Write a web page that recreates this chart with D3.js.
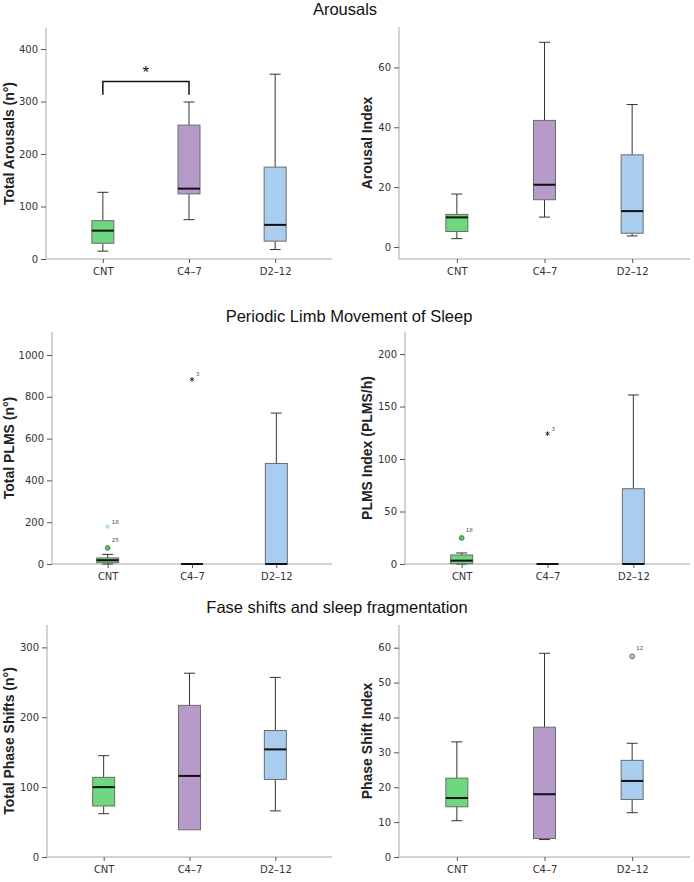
<!DOCTYPE html>
<html>
<head>
<meta charset="utf-8">
<script src="https://cdn.jsdelivr.net/npm/d3@7/dist/d3.min.js"></script>
<style>
  html, body { margin: 0; padding: 0; background: #fff; }
  svg { display: block; }
</style>
</head>
<body>
<svg id="chart" width="694" height="882"></svg>
<script>
// ---------- data ----------
const categories = ["CNT", "C4–7", "D2–12"];
const sectionTitles = ["Arousals", "Periodic Limb Movement of Sleep", "Fase shifts and sleep fragmentation"];
const yLabels = ["Total Arousals (n°)", "Arousal Index", "Total PLMS (n°)", "PLMS Index (PLMS/h)", "Total Phase Shifts (n°)", "Phase Shift Index"];

// [lower whisker, Q1, median, Q3, upper whisker] per category
const totalArousals = [[15, 30, 54, 73, 127], [75, 124, 134, 255, 299], [18, 34, 65, 175, 352]];
const arousalIndex  = [[2.8, 5.2, 9.9, 10.9, 17.7], [10.0, 15.8, 20.8, 42.3, 68.4], [3.7, 4.6, 12.0, 30.8, 47.6]];
const totalPLMS     = [[0, 6, 18, 29, 46], [0, 0, 0, 0, 0], [0, 0, 0, 481, 722]];
const plmsIndex     = [[0, 0.3, 3.2, 8.6, 10.5], [0, 0, 0, 0, 0], [0, 0, 0, 71.7, 161]];
const totalPhase    = [[62, 73, 100, 114, 145], [39, 39, 116, 217, 263], [66, 111, 154, 181, 257]];
const phaseIndex    = [[10.4, 14.4, 16.9, 22.6, 33.0], [5.0, 5.3, 18.0, 37.2, 58.4], [12.7, 16.5, 21.8, 27.7, 32.6]];

// outliers: [category, value, case label, kind]
const totalPLMSOut  = [["CNT", 77, "25", "circle"], ["CNT", 179, "18", "star"], ["C4–7", 883, "3", "star"]];
const plmsIndexOut  = [["CNT", 24.8, "18", "circle"], ["C4–7", 124.2, "3", "star"]];
const phaseIndexOut = [["D2–12", 57.5, "12", "circle"]];

const ticksTotalArousals = [0, 100, 200, 300, 400];
const ticksArousalIndex  = [0, 20, 40, 60];
const ticksTotalPLMS     = [0, 200, 400, 600, 800, 1000];
const ticksPLMSIndex     = [0, 50, 100, 150, 200];
const ticksTotalPhase    = [0, 100, 200, 300];
const ticksPhaseIndex    = [0, 10, 20, 30, 40, 50, 60];

// significance bracket: [from, to, low, high, label]
const sigBracket = ["CNT", "C4–7", 313, 338, "*"];

// ---------- style ----------
const fills = ["#6fd77d", "#b59aca", "#a9cdee"];
const circleFills = ["#5cc46a", "#b59aca", "#b8c4d0"];
const tickFont = "'DejaVu Sans', sans-serif";
const titleFont = "'Liberation Sans', Arial, Helvetica, sans-serif";

const svg = d3.select("#chart");

// section titles
const titlePos = [[345, 15], [349, 322], [337, 613]];
sectionTitles.forEach((t, i) => {
  svg.append("text")
    .attr("x", titlePos[i][0]).attr("y", titlePos[i][1])
    .attr("text-anchor", "middle")
    .attr("font-family", titleFont)
    .attr("font-size", "16.5px")
    .attr("fill", "#111")
    .text(t);
});

const panels = [
  { stats: totalArousals, out: [], ticks: ticksTotalArousals, domain: [0, 440], label: yLabels[0],
    left: 46, right: 332, top: 28, bottom: 259, labelX: 14, bracket: sigBracket },
  { stats: arousalIndex, out: [], ticks: ticksArousalIndex, domain: [-4, 73.5], label: yLabels[1],
    left: 399, right: 690, top: 27, bottom: 259, labelX: 372 },
  { stats: totalPLMS, out: totalPLMSOut, ticks: ticksTotalPLMS, domain: [0, 1110], label: yLabels[2],
    left: 52, right: 332, top: 332, bottom: 564, labelX: 14 },
  { stats: plmsIndex, out: plmsIndexOut, ticks: ticksPLMSIndex, domain: [0, 221], label: yLabels[3],
    left: 405, right: 690, top: 332, bottom: 564, labelX: 372 },
  { stats: totalPhase, out: [], ticks: ticksTotalPhase, domain: [0, 332], label: yLabels[4],
    left: 47, right: 332, top: 625, bottom: 857, labelX: 14 },
  { stats: phaseIndex, out: phaseIndexOut, ticks: ticksPhaseIndex, domain: [0, 66.5], label: yLabels[5],
    left: 399, right: 690, top: 625, bottom: 857, labelX: 372 }
];

const boxW = 22, capW = 11;

panels.forEach(p => {
  const x = d3.scalePoint().domain(categories).range([p.left, p.right]).padding(0.66);
  const y = d3.scaleLinear().domain(p.domain).range([p.bottom, p.top]);
  const g = svg.append("g");

  // axes
  const yAxis = g.append("g").attr("transform", `translate(${p.left},0)`)
    .call(d3.axisLeft(y).tickValues(p.ticks).tickFormat(d3.format("d")).tickSize(5).tickSizeOuter(0).tickPadding(3));
  const xAxis = g.append("g").attr("transform", `translate(0,${p.bottom})`)
    .call(d3.axisBottom(x).tickSize(4).tickSizeOuter(0).tickPadding(5));
  [yAxis, xAxis].forEach(a => {
    a.select(".domain").attr("stroke", "#c4c4c4").attr("stroke-width", 1.5);
    a.selectAll(".tick line").attr("stroke", "#555");
    a.selectAll(".tick text").attr("fill", "#333").attr("font-family", tickFont).attr("font-size", "10px");
  });
  yAxis.select(".domain").attr("d", `M0,${p.bottom}V${p.top}`);
  xAxis.select(".domain").attr("d", `M${p.left},0H${p.right}`);

  // y label
  g.append("text")
    .attr("transform", `translate(${p.labelX},${(p.top + p.bottom) / 2}) rotate(-90)`)
    .attr("text-anchor", "middle")
    .attr("font-family", titleFont)
    .attr("font-weight", "bold")
    .attr("font-size", "14px")
    .attr("fill", "#222")
    .text(p.label);

  // boxes
  p.stats.forEach((s, i) => {
    const cx = x(categories[i]);
    const [lo, q1, med, q3, hi] = s;
    const wg = g.append("g").attr("stroke", "#333").attr("stroke-width", 1);
    if (hi > q3) {
      wg.append("line").attr("x1", cx).attr("x2", cx).attr("y1", y(q3)).attr("y2", y(hi));
      wg.append("line").attr("x1", cx - capW / 2).attr("x2", cx + capW / 2).attr("y1", y(hi)).attr("y2", y(hi));
    }
    if (lo < q1) {
      wg.append("line").attr("x1", cx).attr("x2", cx).attr("y1", y(q1)).attr("y2", y(lo));
      wg.append("line").attr("x1", cx - capW / 2).attr("x2", cx + capW / 2).attr("y1", y(lo)).attr("y2", y(lo));
    }
    g.append("rect")
      .attr("x", cx - boxW / 2).attr("width", boxW)
      .attr("y", y(q3)).attr("height", Math.max(0, y(q1) - y(q3)))
      .attr("fill", fills[i]).attr("stroke", "#6b6b6b").attr("stroke-width", 1);
    g.append("line")
      .attr("x1", cx - boxW / 2).attr("x2", cx + boxW / 2)
      .attr("y1", y(med)).attr("y2", y(med))
      .attr("stroke", "#111").attr("stroke-width", 2);
  });

  // outliers
  p.out.forEach(o => {
    const ci = categories.indexOf(o[0]);
    const cx = x(o[0]), cy = y(o[1]);
    if (o[3] === "circle") {
      g.append("circle").attr("cx", cx).attr("cy", cy).attr("r", 2.4)
        .attr("fill", circleFills[ci]).attr("stroke", ci === 0 ? "#3c8f47" : "#666").attr("stroke-width", 1);
    } else {
      g.append("path")
        .attr("transform", `translate(${cx},${cy})`)
        .attr("d", d3.symbol(d3.symbolAsterisk, 14)())
        .attr("stroke", ci === 0 ? "#8fe39a" : "#333").attr("stroke-width", 1).attr("fill", "none");
    }
    g.append("text")
      .attr("x", cx + 4).attr("y", cy - (o[3] === "circle" ? 6 : 3))
      .attr("font-family", tickFont).attr("font-size", "5.5px").attr("fill", "#444")
      .text(o[2]);
  });

  // significance bracket
  if (p.bracket) {
    const [a, b, lo, hi, lab] = p.bracket;
    g.append("path")
      .attr("d", `M${x(a)},${y(lo)}V${y(hi)}H${x(b)}V${y(lo)}`)
      .attr("fill", "none").attr("stroke", "#111").attr("stroke-width", 1.5);
    g.append("text")
      .attr("x", (x(a) + x(b)) / 2).attr("y", y(hi) - 4)
      .attr("text-anchor", "middle")
      .attr("font-family", titleFont).attr("font-size", "17px").attr("fill", "#111")
      .text(lab);
  }
});
</script>
</body>
</html>
